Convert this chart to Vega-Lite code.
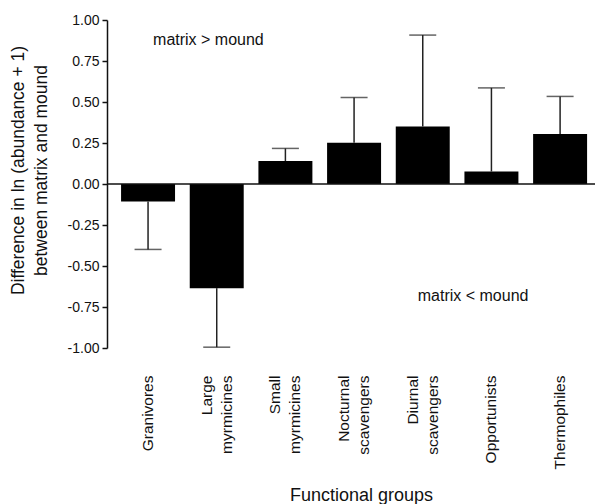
{
  "$schema": "https://vega.github.io/schema/vega-lite/v6.json",
  "autosize": {"type": "none"},
  "width": 488,
  "height": 328,
  "padding": {"left": 107, "top": 20, "right": 1, "bottom": 156},
  "background": "white",
  "config": {
    "view": {"stroke": null},
    "font": "Liberation Sans",
    "axis": {"labelFont": "Liberation Sans", "titleFont": "Liberation Sans", "labelColor": "#111", "titleColor": "#111", "titleFontWeight": "normal"}
  },
  "datasets": {
    "groups": [
      {"group": "Granivores", "value": -0.107, "err": -0.399},
      {"group": "Large myrmicines", "value": -0.635, "err": -0.995},
      {"group": "Small myrmicines", "value": 0.14, "err": 0.217},
      {"group": "Nocturnal scavengers", "value": 0.251, "err": 0.528},
      {"group": "Diurnal scavengers", "value": 0.351, "err": 0.908},
      {"group": "Opportunists", "value": 0.076, "err": 0.586},
      {"group": "Thermophiles", "value": 0.305, "err": 0.534}
    ],
    "notes": [
      {"group": "Granivores", "y": 0.88, "label": "matrix > mound"},
      {"group": "Diurnal scavengers", "y": -0.685, "label": "matrix < mound"}
    ]
  },
  "data": {"name": "groups"},
  "encoding": {
    "x": {
      "field": "group",
      "type": "nominal",
      "sort": null,
      "scale": {"paddingInner": 0.214, "paddingOuter": 0.16, "align": 0.64},
      "axis": {
        "title": "Functional groups",
        "titleFontSize": 18,
        "titleX": 254,
        "titleY": 147,
        "titleAlign": "center",
        "titleBaseline": "middle",
        "labelAngle": -90,
        "labelAlign": "right",
        "labelBaseline": "middle",
        "labelFontSize": 15.5,
        "labelLineHeight": 20,
        "labelExpr": "split(datum.label, ' ')",
        "labelOffset": {"condition": {"test": "indexof(datum.label, ' ') >= 0", "value": -10}, "value": 0},
        "labelPadding": 27,
        "domain": false,
        "ticks": false,
        "tickSize": 0
      }
    }
  },
  "layer": [
    {
      "mark": {"type": "bar", "color": "#000"},
      "encoding": {
        "y": {
          "field": "value",
          "type": "quantitative",
          "scale": {"domain": [-1, 1], "nice": false, "zero": false},
          "axis": {
            "title": ["Difference in ln (abundance  + 1)", "between matrix and mound"],
            "titleFontSize": 17.5,
            "titleLineHeight": 23,
            "titleAngle": -90,
            "titleX": -89,
            "titleY": 150,
            "titleAlign": "center",
            "titleBaseline": "middle",
            "values": [-1, -0.75, -0.5, -0.25, 0, 0.25, 0.5, 0.75, 1],
            "labelExpr": "replace(format(datum.value, '.2f'), '\u2212', '-')",
            "labelFontSize": 14,
            "labelPadding": 3,
            "tickSize": 5,
            "tickColor": "#111",
            "tickWidth": 1.5,
            "domainColor": "#111",
            "domainWidth": 1.5,
            "grid": false
          }
        }
      }
    },
    {
      "mark": {"type": "rule", "color": "#222", "strokeWidth": 1.5},
      "encoding": {
        "y": {"field": "value", "type": "quantitative"},
        "y2": {"field": "err"}
      }
    },
    {
      "mark": {"type": "tick", "color": "#222", "thickness": 1.5, "size": 27, "orient": "horizontal"},
      "encoding": {
        "y": {"field": "err", "type": "quantitative"}
      }
    },
    {
      "data": {"values": [{"z": 0}]},
      "mark": {"type": "rule", "color": "#111", "strokeWidth": 1.5},
      "encoding": {
        "x": null,
        "y": {"field": "z", "type": "quantitative"}
      }
    },
    {
      "data": {"name": "notes"},
      "transform": [{"filter": "datum.group == 'Granivores'"}],
      "mark": {"type": "text", "fontSize": 16, "align": "left", "baseline": "middle", "color": "#111", "dx": 5},
      "encoding": {
        "x": {"field": "group", "type": "nominal", "sort": null, "bandPosition": 0.5},
        "y": {"field": "y", "type": "quantitative"},
        "text": {"field": "label"}
      }
    },
    {
      "data": {"name": "notes"},
      "transform": [{"filter": "datum.group == 'Diurnal scavengers'"}],
      "mark": {"type": "text", "fontSize": 16, "align": "left", "baseline": "middle", "color": "#111", "dx": -5},
      "encoding": {
        "x": {"field": "group", "type": "nominal", "sort": null, "bandPosition": 0.5},
        "y": {"field": "y", "type": "quantitative"},
        "text": {"field": "label"}
      }
    }
  ]
}
